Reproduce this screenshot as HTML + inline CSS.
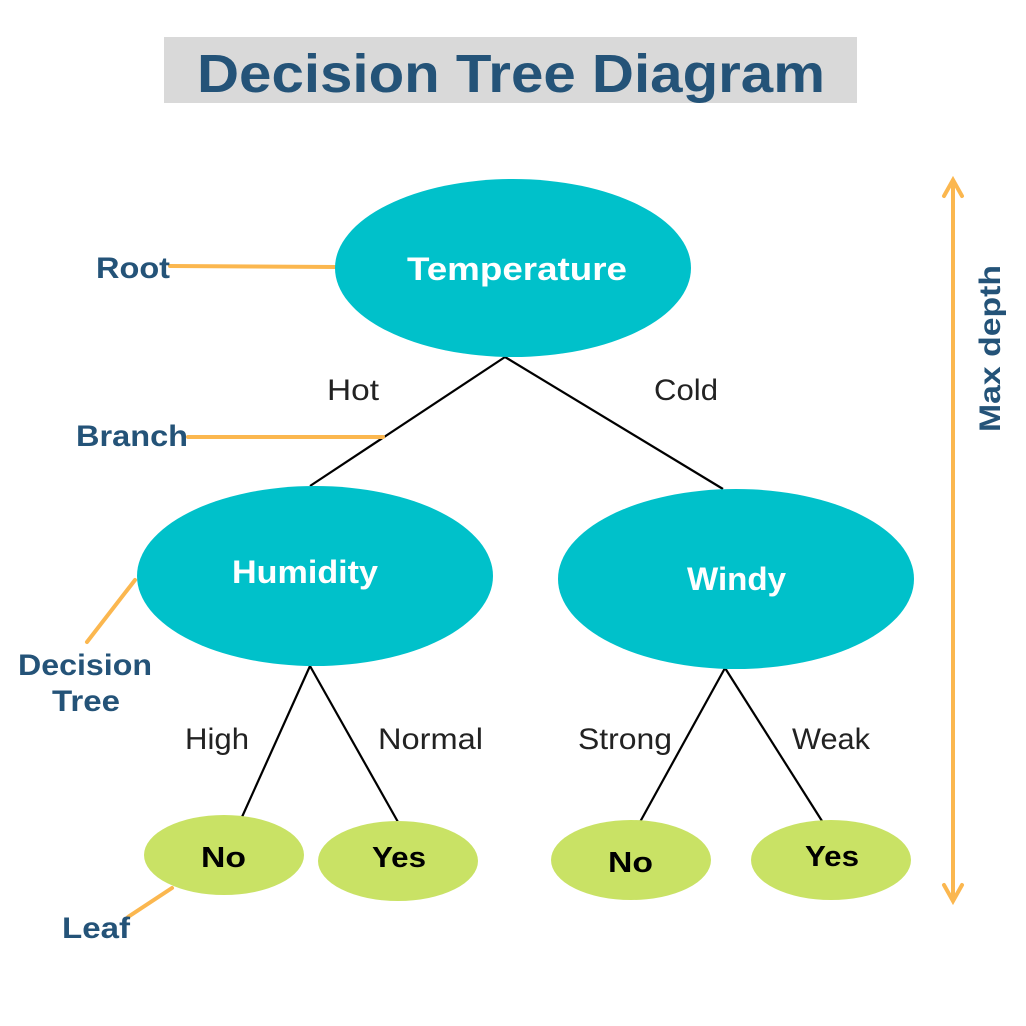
<!DOCTYPE html>
<html><head><meta charset="utf-8"><style>html,body{margin:0;padding:0;background:#fff}svg{display:block}</style></head>
<body>
<svg width="1026" height="1026" viewBox="0 0 1026 1026" xmlns="http://www.w3.org/2000/svg" font-family="Liberation Sans, DejaVu Sans, sans-serif">
<rect x="164" y="37" width="693" height="66" fill="#d9d9d9"/>
<text x="511" y="92" text-anchor="middle" font-size="54" font-weight="bold" fill="#245378" textLength="628" lengthAdjust="spacingAndGlyphs">Decision Tree Diagram</text>
<g stroke="#000" stroke-width="2.2">
<line x1="505" y1="357" x2="310" y2="486"/>
<line x1="505" y1="357" x2="723" y2="489"/>
<line x1="310" y1="666" x2="242" y2="817"/>
<line x1="310" y1="666" x2="398" y2="822"/>
<line x1="725" y1="668" x2="640" y2="822"/>
<line x1="725" y1="668" x2="822" y2="821"/>
</g>
<g stroke="#fbb74f" stroke-width="4" stroke-linecap="round">
<line x1="170" y1="266" x2="336" y2="267"/>
<line x1="188" y1="437" x2="383" y2="437"/>
<line x1="135" y1="580" x2="87" y2="642"/>
<line x1="172" y1="888" x2="128" y2="917"/>
<line x1="953" y1="182" x2="953" y2="899"/>
<polyline points="944,196 953,180 962,196" fill="none"/>
<polyline points="944,885 953,901 962,885" fill="none"/>
</g>
<g fill="#00c1ca">
<ellipse cx="513" cy="268" rx="178" ry="89"/>
<ellipse cx="315" cy="576" rx="178" ry="90"/>
<ellipse cx="736" cy="579" rx="178" ry="90"/>
</g>
<g fill="#c9e265">
<ellipse cx="224" cy="855" rx="80" ry="40"/>
<ellipse cx="398" cy="861" rx="80" ry="40"/>
<ellipse cx="631" cy="860" rx="80" ry="40"/>
<ellipse cx="831" cy="860" rx="80" ry="40"/>
</g>
<g fill="#fff" font-weight="bold" font-size="32" lengthAdjust="spacingAndGlyphs">
<text x="407" y="280" textLength="220" lengthAdjust="spacingAndGlyphs">Temperature</text>
<text x="232" y="583" textLength="146" lengthAdjust="spacingAndGlyphs">Humidity</text>
<text x="687" y="590" textLength="99" lengthAdjust="spacingAndGlyphs">Windy</text>
</g>
<g fill="#000" font-weight="bold" font-size="29">
<text x="201" y="867" textLength="45" lengthAdjust="spacingAndGlyphs">No</text>
<text x="372" y="867" textLength="54" lengthAdjust="spacingAndGlyphs">Yes</text>
<text x="608" y="872" textLength="45" lengthAdjust="spacingAndGlyphs">No</text>
<text x="805" y="866" textLength="54" lengthAdjust="spacingAndGlyphs">Yes</text>
</g>
<g fill="#222" font-size="30">
<text x="327" y="400" textLength="52" lengthAdjust="spacingAndGlyphs">Hot</text>
<text x="654" y="400" textLength="64" lengthAdjust="spacingAndGlyphs">Cold</text>
<text x="185" y="749" textLength="64" lengthAdjust="spacingAndGlyphs">High</text>
<text x="378" y="749" textLength="105" lengthAdjust="spacingAndGlyphs">Normal</text>
<text x="578" y="749" textLength="94" lengthAdjust="spacingAndGlyphs">Strong</text>
<text x="792" y="749" textLength="78" lengthAdjust="spacingAndGlyphs">Weak</text>
</g>
<g fill="#245378" font-weight="bold" font-size="30">
<text x="96" y="278" textLength="74" lengthAdjust="spacingAndGlyphs">Root</text>
<text x="76" y="446" textLength="112" lengthAdjust="spacingAndGlyphs">Branch</text>
<text x="18" y="675" textLength="134" lengthAdjust="spacingAndGlyphs">Decision</text>
<text x="52" y="711" textLength="68" lengthAdjust="spacingAndGlyphs">Tree</text>
<text x="62" y="938" textLength="68" lengthAdjust="spacingAndGlyphs">Leaf</text>
<text transform="translate(1000,432) rotate(-90)" textLength="167" lengthAdjust="spacingAndGlyphs">Max depth</text>
</g>
</svg>
</body></html>
